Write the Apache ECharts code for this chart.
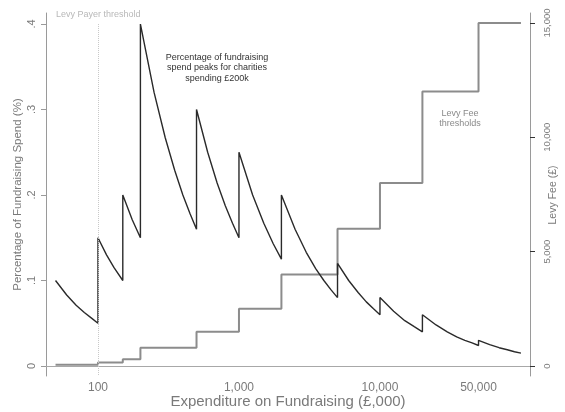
<!DOCTYPE html>
<html>
<head>
<meta charset="utf-8">
<script src="https://cdn.jsdelivr.net/npm/echarts@6/dist/echarts.min.js"></script>
<style>
  html, body { margin: 0; padding: 0; background: #fff; }
  #chart { width: 565px; height: 412px; }
</style>
</head>
<body>
<div id="chart"></div>
<script>
// spend in £,000 and share of spend taken by the levy (%)
const pctSpend = [50, 60, 70, 80, 90, 100,
  100, 115, 130, 150,
  150, 175, 200,
  200, 250, 300, 350, 400, 450, 500,
  500, 600, 700, 800, 900, 1000,
  1000, 1250, 1500, 1750, 2000,
  2000, 2500, 3000, 3500, 4000, 4500, 5000,
  5000, 6000, 7000, 8000, 9000, 10000,
  10000, 12500, 15000, 17500, 20000,
  20000, 25000, 30000, 35000, 40000, 45000, 50000,
  50000, 60000, 70000, 80000, 90000, 100000];
const pctValues = [0.1, 0.083, 0.071, 0.0625, 0.056, 0.05,
  0.15, 0.13, 0.115, 0.1,
  0.2, 0.171, 0.15,
  0.4, 0.32, 0.267, 0.229, 0.2, 0.178, 0.16,
  0.3, 0.25, 0.214, 0.1875, 0.167, 0.15,
  0.25, 0.2, 0.167, 0.143, 0.125,
  0.2, 0.16, 0.133, 0.114, 0.1, 0.089, 0.08,
  0.12, 0.1, 0.086, 0.075, 0.067, 0.06,
  0.08, 0.064, 0.053, 0.046, 0.04,
  0.06, 0.048, 0.04, 0.034, 0.03, 0.027, 0.024,
  0.03, 0.025, 0.0214, 0.019, 0.0167, 0.015];

// levy fee bands (£), each starting at the given spend
const bandStart = [50, 100, 150, 200, 500, 1000, 2000, 5000, 10000, 20000, 50000, 100000];
const bandFee = [50, 150, 300, 800, 1500, 2500, 4000, 6000, 8000, 12000, 15000, 15000];

const xTicks = [100, 1000, 10000, 50000];
const pctTicks = [0, 0.1, 0.2, 0.3, 0.4];
const feeTicks = [0, 5000, 10000, 15000];
const payerThreshold = 100;

const chart = echarts.init(document.getElementById('chart'));
const font = 'Liberation Sans, Arial, sans-serif';
const grey = '#7a7a7a';

const pctData = pctSpend.map((x, i) => [x, pctValues[i]]);
const feeData = bandStart.map((x, i) => [x, bandFee[i]]);

const option = {
  backgroundColor: '#fff',
  animation: false,
  grid: { left: 46, right: 35, top: 13, bottom: 36, containLabel: false, outerBoundsMode: 'none' },
  xAxis: {
    type: 'log',
    logBase: 10,
    min: 42.8,
    max: 115900,
    name: 'Expenditure on Fundraising (£,000)',
    nameLocation: 'middle',
    nameGap: 18,
    nameMoveOverlap: false,
    nameTextStyle: { color: grey, fontSize: 15, fontFamily: font },
    axisLine: { lineStyle: { color: '#a8a8a8', width: 1 } },
    axisTick: { show: false, customValues: xTicks },
    axisLabel: {
      customValues: xTicks,
      color: grey, fontSize: 12, fontFamily: font, margin: 6,
      formatter: v => Math.round(v).toLocaleString('en-GB')
    },
    splitLine: { show: false },
    minorTick: { show: false }
  },
  yAxis: [{
    type: 'value',
    min: -0.0117,
    max: 0.4129,
    name: 'Percentage of Fundraising Spend (%)',
    nameLocation: 'middle',
    nameGap: 22,
    nameMoveOverlap: false,
    nameTextStyle: { color: grey, fontSize: 11.5, fontFamily: font },
    axisLine: { show: true, lineStyle: { color: '#9a9a9a' } },
    axisTick: { show: true, length: 5, customValues: pctTicks, lineStyle: { color: '#9a9a9a' } },
    axisLabel: {
      customValues: pctTicks,
      rotate: 90, margin: 9, align: 'center', verticalAlign: 'bottom',
      color: grey, fontSize: 11, fontFamily: font,
      formatter: v => v === 0 ? '0' : String(Math.round(v * 10) / 10).replace(/^0/, '')
    },
    splitLine: { show: false }
  }, {
    type: 'value',
    min: -437,
    max: 15437,
    axisLine: { show: true, lineStyle: { color: '#9a9a9a' } },
    axisTick: { show: true, length: 5, customValues: feeTicks, lineStyle: { color: '#333' } },
    axisLabel: {
      customValues: feeTicks,
      rotate: 90, margin: 12, align: 'center', verticalAlign: 'top',
      color: grey, fontSize: 9.5, fontFamily: font,
      formatter: v => Math.round(v).toLocaleString('en-GB')
    },
    splitLine: { show: false }
  }],
  series: [{
    name: 'Levy fee',
    type: 'line',
    yAxisIndex: 1,
    step: 'end',
    data: feeData,
    showSymbol: false,
    lineStyle: { color: '#8c8c8c', width: 2 },
    z: 2
  }, {
    name: 'Percentage of spend',
    type: 'line',
    yAxisIndex: 0,
    data: pctData,
    showSymbol: false,
    lineStyle: { color: '#2a2a2a', width: 1.4 },
    z: 3,
    markLine: {
      silent: true,
      symbol: 'none',
      label: { show: false },
      lineStyle: { color: '#c8c8c8', type: 'dotted', width: 1 },
      data: [[{ coord: [payerThreshold, 0.4] }, { coord: [payerThreshold, -0.0117] }]]
    }
  }],
  graphic: [{
    type: 'text', left: 56, top: 10,
    style: { text: 'Levy Payer threshold', fill: '#b8b8b8', font: '9px ' + font }
  }, {
    type: 'text', x: 217, y: 52,
    style: {
      text: 'Percentage of fundraising\nspend peaks for charities\nspending £200k',
      fill: '#333', font: '9px ' + font, align: 'center', lineHeight: 10.5
    }
  }, {
    type: 'text', x: 460, y: 109,
    style: {
      text: 'Levy Fee\nthresholds',
      fill: '#8a8a8a', font: '9px ' + font, align: 'center', lineHeight: 10
    }
  }, {
    type: 'text', x: 553, y: 195, rotation: Math.PI / 2,
    style: {
      text: 'Levy Fee (£)',
      fill: grey, font: '10.5px ' + font, align: 'center', verticalAlign: 'middle'
    }
  }]
};

chart.setOption(option);
</script>
</body>
</html>
